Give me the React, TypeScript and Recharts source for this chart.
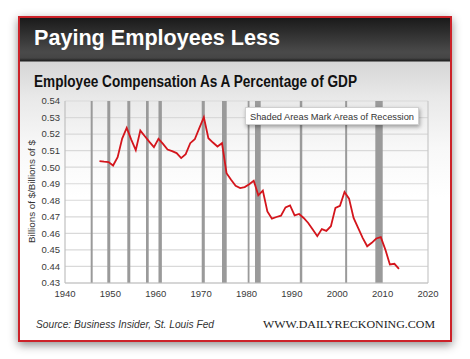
import React from 'react';
import { LineChart, Line, XAxis, YAxis, CartesianGrid, ReferenceArea, ReferenceLine } from 'recharts';

const years = [
  1947, 1948, 1949, 1950, 1951, 1952, 1953, 1954, 1955, 1956,
  1957, 1958, 1959, 1960, 1961, 1962, 1963, 1964, 1965, 1966,
  1967, 1968, 1969, 1970, 1971, 1972, 1973, 1974, 1975, 1976,
  1977, 1978, 1979, 1980, 1981, 1982, 1983, 1984, 1985, 1986,
  1987, 1988, 1989, 1990, 1991, 1992, 1993, 1994, 1995, 1996,
  1997, 1998, 1999, 2000, 2001, 2002, 2003, 2004, 2005, 2006,
  2007, 2008, 2009, 2010, 2011, 2012, 2013,
];

const compensationShare = [
  0.5037, 0.5033, 0.5031, 0.5010, 0.5060, 0.5173, 0.5237, 0.5167, 0.5103, 0.5221,
  0.5187, 0.5153, 0.5121, 0.5171, 0.5141, 0.5107, 0.5097, 0.5085, 0.5055, 0.5079,
  0.5145, 0.5169, 0.5236, 0.5302, 0.5175, 0.5149, 0.5125, 0.5145, 0.4964, 0.4924,
  0.4888, 0.4874, 0.4880, 0.4897, 0.4918, 0.4830, 0.4858, 0.4733, 0.4689, 0.4699,
  0.4707, 0.4757, 0.4769, 0.4709, 0.4717, 0.4693, 0.4663, 0.4623, 0.4583, 0.4626,
  0.4615, 0.4643, 0.4754, 0.4767, 0.4850, 0.4810, 0.4693, 0.4633, 0.4573, 0.4522,
  0.4543, 0.4569, 0.4577, 0.4502, 0.4412, 0.4416, 0.4386,
];

const recessionStart = [1945.66, 1949.32, 1953.73, 1957.85, 1960.6, 1970.13, 1974.6, 1980.26, 1981.87, 1991.75, 2001.74, 2008.39];
const recessionEnd = [1946.1, 1949.98, 1954.39, 1958.45, 1961.35, 1970.81, 1975.64, 1980.66, 1983.13, 1992.29, 2002.18, 2010.02];

const xTicks = [1940, 1950, 1960, 1970, 1980, 1990, 2000, 2010, 2020];
const yTicks = [0.43, 0.44, 0.45, 0.46, 0.47, 0.48, 0.49, 0.5, 0.51, 0.52, 0.53, 0.54];

const title = 'Paying Employees Less';
const subtitle = 'Employee Compensation As A Percentage of GDP';
const yLabel = 'Billions of $/Billions of $';
const legendText = 'Shaded Areas Mark Areas of Recession';
const sourceText = 'Source: Business Insider, St. Louis Fed';
const siteText = 'WWW.DAILYRECKONING.COM';

// annual values plotted at mid-year
const rows = years.map((y, i) => ({ x: y + 0.6, v: compensationShare[i] }));

const sans = '"Liberation Sans", Arial, Helvetica, sans-serif';

export default function App() {
  return (
    <div style={{ position: 'absolute', left: 0, top: 0, width: 470, height: 359, background: '#fff', overflow: 'hidden' }}>
      {/* card */}
      <div
        style={{
          position: 'absolute',
          left: 18,
          top: 16,
          width: 434,
          height: 326,
          boxSizing: 'border-box',
          border: '2px solid #cc2229',
          boxShadow: '0 3px 9px rgba(0,0,0,0.45)',
          background: 'linear-gradient(to bottom, #1a1a1a 0px, #2e2e2e 14px, #4a4a4a 34px, #454545 40px, #1e1e1e 43px, #d6d6d6 44px, #e9e9e9 80px, #f8f8f8 130px, #ffffff 180px)',
        }}
      />
      <div style={{ position: 'absolute', left: 0, top: 0 }}>
        <LineChart width={470} height={359} data={rows} margin={{ top: 101, right: 42, bottom: 56, left: 35 }}>
          <CartesianGrid vertical={false} stroke="#d9d9d9" strokeWidth={1.2} />
          {recessionStart.map((s, i) => (
            <ReferenceArea key={i} x1={s} x2={recessionEnd[i]} fill="#9a9a9a" fillOpacity={1} stroke="none" ifOverflow="hidden" />
          ))}
          <ReferenceLine x={2020} stroke="#c8c8c8" strokeWidth={1.2} />
          <XAxis
            type="number"
            dataKey="x"
            domain={[1940, 2020]}
            ticks={xTicks}
            interval={0}
            height={20}
            tickSize={0}
            tickMargin={7}
            axisLine={{ stroke: '#c0c0c0', strokeWidth: 1.2 }}
            tick={{ fill: '#3a3a3a', fontSize: 9.5, fontFamily: sans }}
            allowDataOverflow
          />
          <YAxis
            type="number"
            domain={[0.43, 0.54]}
            ticks={yTicks}
            interval={0}
            width={30}
            tickSize={0}
            tickMargin={5}
            axisLine={{ stroke: '#c0c0c0', strokeWidth: 1.2 }}
            tickFormatter={(t: number) => t.toFixed(2)}
            tick={{ fill: '#3a3a3a', fontSize: 9.5, fontFamily: sans }}
            allowDataOverflow
          />
          <Line type="linear" dataKey="v" stroke="#d4151c" strokeWidth={1.8} dot={false} isAnimationActive={false} />
        </LineChart>
      </div>
      {/* legend box */}
      <div
        style={{
          position: 'absolute',
          left: 245,
          top: 107,
          width: 174,
          height: 18,
          boxSizing: 'border-box',
          background: '#fff',
          border: '1px solid #d0d0d0',
          boxShadow: '1px 2px 4px rgba(0,0,0,0.35)',
        }}
      />
      <svg width={470} height={359} style={{ position: 'absolute', left: 0, top: 0, pointerEvents: 'none' }}>
        <text x={34} y={45} fill="#ffffff" fontFamily={sans} fontWeight="bold" fontSize={22} textLength={246} lengthAdjust="spacingAndGlyphs">
          {title}
        </text>
        <text x={34} y={87.3} fill="#111" fontFamily={sans} fontWeight="bold" fontSize={15.8} textLength={323} lengthAdjust="spacingAndGlyphs">
          {subtitle}
        </text>
        <text
          x={0}
          y={0}
          transform="translate(34.5,191.5) rotate(-90)"
          textAnchor="middle"
          fill="#333"
          fontFamily={sans}
          fontSize={9.8}
          textLength={103}
          lengthAdjust="spacingAndGlyphs"
        >
          {yLabel}
        </text>
        <text x={250} y={119.5} fill="#333" fontFamily={sans} fontSize={9.5} textLength={164} lengthAdjust="spacingAndGlyphs">
          {legendText}
        </text>
        <text x={36} y={327.5} fill="#333" fontFamily={sans} fontStyle="italic" fontSize={10} textLength={178} lengthAdjust="spacingAndGlyphs">
          {sourceText}
        </text>
        <text x={263} y={327.5} fill="#222" fontFamily='"Liberation Serif", "Times New Roman", serif' fontSize={11} textLength={172} lengthAdjust="spacingAndGlyphs">
          {siteText}
        </text>
      </svg>
    </div>
  );
}
